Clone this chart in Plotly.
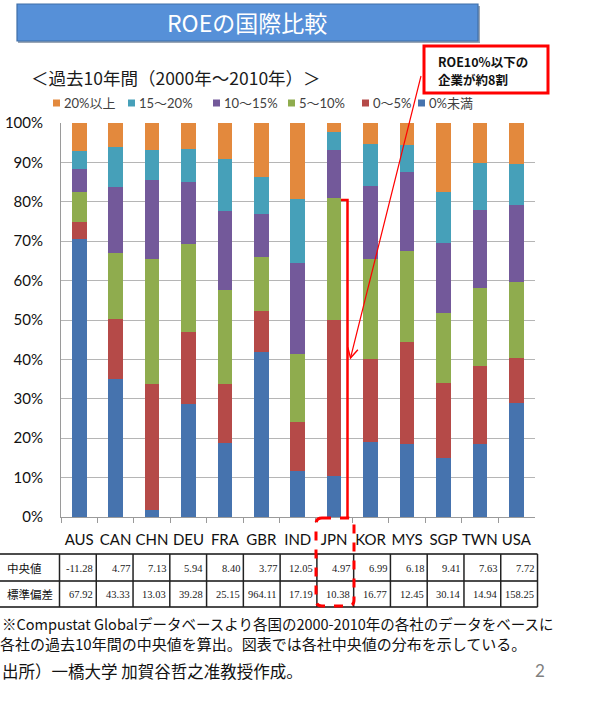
import math
import plotly.graph_objects as go

W, H = 592, 714

# ---------------- data ----------------
countries = ["AUS", "CAN", "CHN", "DEU", "FRA", "GBR", "IND", "JPN", "KOR", "MYS", "SGP", "TWN", "USA"]
series_names = ["0%未満", "0～5%", "5～10%", "10～15%", "15～20%", "20%以上"]

below_0 = [70.6, 35.0, 1.9, 28.8, 18.8, 42.0, 11.6, 10.3, 19.1, 18.5, 15.1, 18.5, 29.0]
pct_0_5 = [4.4, 15.3, 31.9, 18.2, 15.0, 10.4, 12.5, 39.8, 21.1, 25.9, 18.9, 19.7, 11.4]
pct_5_10 = [7.6, 16.8, 31.8, 22.2, 23.7, 13.6, 17.3, 30.9, 25.2, 23.1, 17.9, 20.0, 19.2]
pct_10_15 = [5.8, 16.6, 20.0, 15.7, 20.2, 10.9, 23.1, 12.2, 18.5, 20.1, 17.6, 19.8, 19.5]
pct_15_20 = [4.6, 10.2, 7.5, 8.6, 13.2, 9.3, 16.3, 4.4, 10.8, 6.9, 13.1, 11.8, 10.6]
above_20 = [7.0, 6.1, 6.9, 6.5, 9.1, 13.8, 19.2, 2.4, 5.3, 5.5, 17.4, 10.2, 10.3]

median = [-11.28, 4.77, 7.13, 5.94, 8.40, 3.77, 12.05, 4.97, 6.99, 6.18, 9.41, 7.63, 7.72]
stdev = [67.92, 43.33, 13.03, 39.28, 25.15, 964.11, 17.19, 10.38, 16.77, 12.45, 30.14, 14.94, 158.25]
row_labels = ["中央値", "標準偏差"]

title_text = "ROEの国際比較"
subtitle_text = "＜過去10年間（2000年～2010年）＞"
callout_lines = ["ROE10%以下の", "企業が約8割"]
note_lines = [
    "※Compustat Globalデータベースより各国の2000-2010年の各社のデータをベースに",
    "各社の過去10年間の中央値を算出。図表では各社中央値の分布を示している。",
]
source_text = "出所）一橋大学 加賀谷哲之准教授作成。"
page_no = "2"

series_values = [below_0, pct_0_5, pct_5_10, pct_10_15, pct_15_20, above_20]
colors = ["#4673AE", "#B54A48", "#8FAC4E", "#73599A", "#46A0B9", "#E3893D"]

CJK = "Noto Sans CJK JP"
LAT = "Lato, Noto Sans CJK JP"


def X(x):
    return x / W


def Y(y):
    return 1 - y / H


fig = go.Figure()
for name, vals, col in zip(series_names, series_values, colors):
    fig.add_trace(go.Bar(
        x=countries, y=[v / 100 for v in vals], name=name,
        marker=dict(color=col, line=dict(width=0)),
        showlegend=False,
    ))

shapes = []
annotations = []

# title bar
shapes.append(dict(type="rect", xref="paper", yref="paper",
                   x0=X(18), x1=X(480), y0=Y(43), y1=Y(6),
                   fillcolor="#9aa6b5", line=dict(width=0), layer="below"))
shapes.append(dict(type="rect", xref="paper", yref="paper",
                   x0=X(17), x1=X(478), y0=Y(41), y1=Y(4),
                   fillcolor="#5690D8", line=dict(color="#3F6FA8", width=1.2), layer="below"))
annotations.append(dict(text=title_text, x=X(247), y=Y(22), xref="paper", yref="paper",
                        showarrow=False, xanchor="center", yanchor="middle",
                        font=dict(family=CJK, size=23, color="white")))

# subtitle
annotations.append(dict(text=subtitle_text, x=X(29), y=Y(77), xref="paper", yref="paper",
                        showarrow=False, xanchor="left", yanchor="middle",
                        font=dict(family=CJK, size=17.5, color="#1a1a1a")))

# call-out box
shapes.append(dict(type="rect", xref="paper", yref="paper",
                   x0=X(424), x1=X(548), y0=Y(93), y1=Y(46),
                   fillcolor="white", line=dict(color="#FF0000", width=3)))
for ln, yy in zip(callout_lines, [61, 79]):
    annotations.append(dict(text="<b>" + ln + "</b>", x=X(436), y=Y(yy),
                            xref="paper", yref="paper", showarrow=False,
                            xanchor="left", yanchor="middle", align="left",
                            font=dict(family=CJK, size=12.5, color="#111111")))

# manual legend (order as in reference)
legend_x = [53, 128, 213, 288, 362, 418]
for i, lx in enumerate(legend_x):
    k = len(series_names) - 1 - i
    shapes.append(dict(type="rect", xref="paper", yref="paper",
                       x0=X(lx), x1=X(lx + 7), y0=Y(106.5), y1=Y(99.5),
                       fillcolor=colors[k], line=dict(width=0)))
    annotations.append(dict(text=series_names[k], x=X(lx + 9), y=Y(103),
                            xref="paper", yref="paper", showarrow=False,
                            xanchor="left", yanchor="middle",
                            font=dict(family=LAT, size=13, color="#404040")))

# table
col0 = 59.5
colw = 36.77
tab_right = col0 + colw * len(countries)
for yy in [554, 581, 607]:
    shapes.append(dict(type="line", xref="paper", yref="paper",
                       x0=X(0), x1=X(tab_right), y0=Y(yy), y1=Y(yy),
                       line=dict(color="#111111", width=1.6)))
for i in range(len(countries) + 1):
    xx = col0 + colw * i
    shapes.append(dict(type="line", xref="paper", yref="paper",
                       x0=X(xx), x1=X(xx), y0=Y(554), y1=Y(607),
                       line=dict(color="#222222", width=1.5)))
row_y = [568, 594]
for r, lab in enumerate(row_labels):
    annotations.append(dict(text=lab, x=X(5), y=Y(row_y[r]), xref="paper", yref="paper",
                            showarrow=False, xanchor="left", yanchor="middle",
                            font=dict(family=CJK, size=11.5, color="#111111")))
for r, vals in enumerate([median, stdev]):
    for i, v in enumerate(vals):
        annotations.append(dict(text=f"{v:.2f}", x=X(col0 + colw * (i + 1) - 1.5),
                                y=Y(row_y[r]), xref="paper", yref="paper",
                                showarrow=False, xanchor="right", yanchor="middle",
                                font=dict(family="Liberation Serif", size=10.5, color="#1a1a1a")))

# JPN dashed rounded box
x0, x1, y0, y1, rr = 316, 354, 518, 606, 6
path = (f"M {X(x0 + rr)},{Y(y0)} L {X(x1 - rr)},{Y(y0)} Q {X(x1)},{Y(y0)} {X(x1)},{Y(y0 + rr)} "
        f"L {X(x1)},{Y(y1 - rr)} Q {X(x1)},{Y(y1)} {X(x1 - rr)},{Y(y1)} "
        f"L {X(x0 + rr)},{Y(y1)} Q {X(x0)},{Y(y1)} {X(x0)},{Y(y1 - rr)} "
        f"L {X(x0)},{Y(y0 + rr)} Q {X(x0)},{Y(y0)} {X(x0 + rr)},{Y(y0)} Z")
shapes.append(dict(type="path", xref="paper", yref="paper", path=path,
                   line=dict(color="#FF0000", width=3, dash="dash")))

# bracket beside JPN bar
shapes.append(dict(type="path", xref="paper", yref="paper",
                   path=f"M {X(341)},{Y(200)} L {X(347.5)},{Y(200)} L {X(347.5)},{Y(518)}",
                   line=dict(color="#FF0000", width=2.5)))

# arrow from call-out (line + open V head)
tail = (421, 76)
head = (350.5, 358)
shapes.append(dict(type="line", xref="paper", yref="paper",
                   x0=X(tail[0]), y0=Y(tail[1]), x1=X(head[0]), y1=Y(head[1]),
                   line=dict(color="#FF0000", width=1.2)))
dx, dy = tail[0] - head[0], tail[1] - head[1]
L = math.hypot(dx, dy)
ux, uy = dx / L, dy / L
hl, ang = 11, math.radians(28)
pts = []
for s in (1, -1):
    c, sn = math.cos(s * ang), math.sin(s * ang)
    pts.append((head[0] + hl * (ux * c - uy * sn), head[1] + hl * (ux * sn + uy * c)))
shapes.append(dict(type="path", xref="paper", yref="paper",
                   path=(f"M {X(pts[0][0])},{Y(pts[0][1])} L {X(head[0])},{Y(head[1])} "
                         f"L {X(pts[1][0])},{Y(pts[1][1])}"),
                   line=dict(color="#FF0000", width=1.4)))

# footnotes
annotations.append(dict(text=note_lines[0], x=X(0), y=Y(623), xref="paper", yref="paper",
                        showarrow=False, xanchor="left", yanchor="middle",
                        font=dict(family=CJK, size=14.5, color="#111111")))
annotations.append(dict(text=note_lines[1], x=X(-2), y=Y(643), xref="paper", yref="paper",
                        showarrow=False, xanchor="left", yanchor="middle",
                        font=dict(family=CJK, size=15, color="#111111")))
annotations.append(dict(text=source_text, x=X(0), y=Y(671), xref="paper", yref="paper",
                        showarrow=False, xanchor="left", yanchor="middle",
                        font=dict(family=CJK, size=16.5, color="#111111")))
annotations.append(dict(text=page_no, x=X(540), y=Y(670), xref="paper", yref="paper",
                        showarrow=False, xanchor="center", yanchor="middle",
                        font=dict(family=LAT, size=17, color="#7f7f7f")))

fig.update_layout(
    width=W, height=H,
    margin=dict(l=0, r=0, t=0, b=0),
    paper_bgcolor="white", plot_bgcolor="white",
    barmode="stack", bargap=0.6,
    showlegend=False,
    shapes=shapes, annotations=annotations,
    xaxis=dict(domain=[X(61), X(534.5)], type="category",
               showline=True, linecolor="#9a9a9a", linewidth=1,
               ticks="outside", ticklen=5, tickcolor="#9a9a9a", tickson="boundaries",
               tickangle=0, ticklabelstandoff=9, showgrid=False, automargin=False,
               tickfont=dict(family=LAT, size=15, color="#111111")),
    yaxis=dict(domain=[Y(517), Y(123)], range=[0, 1], dtick=0.1, tickformat=".0%",
               showline=True, linecolor="#9a9a9a", linewidth=1,
               showgrid=True, gridcolor="#b5b5b5", gridwidth=1,
               ticks="", ticklabelstandoff=14, automargin=False, zeroline=False,
               tickfont=dict(family=LAT, size=15, color="#111111")),
)

fig.write_html("out.html", config={"displayModeBar": False},
               post_script="document.body.style.margin='0';document.body.style.overflow='hidden';")
